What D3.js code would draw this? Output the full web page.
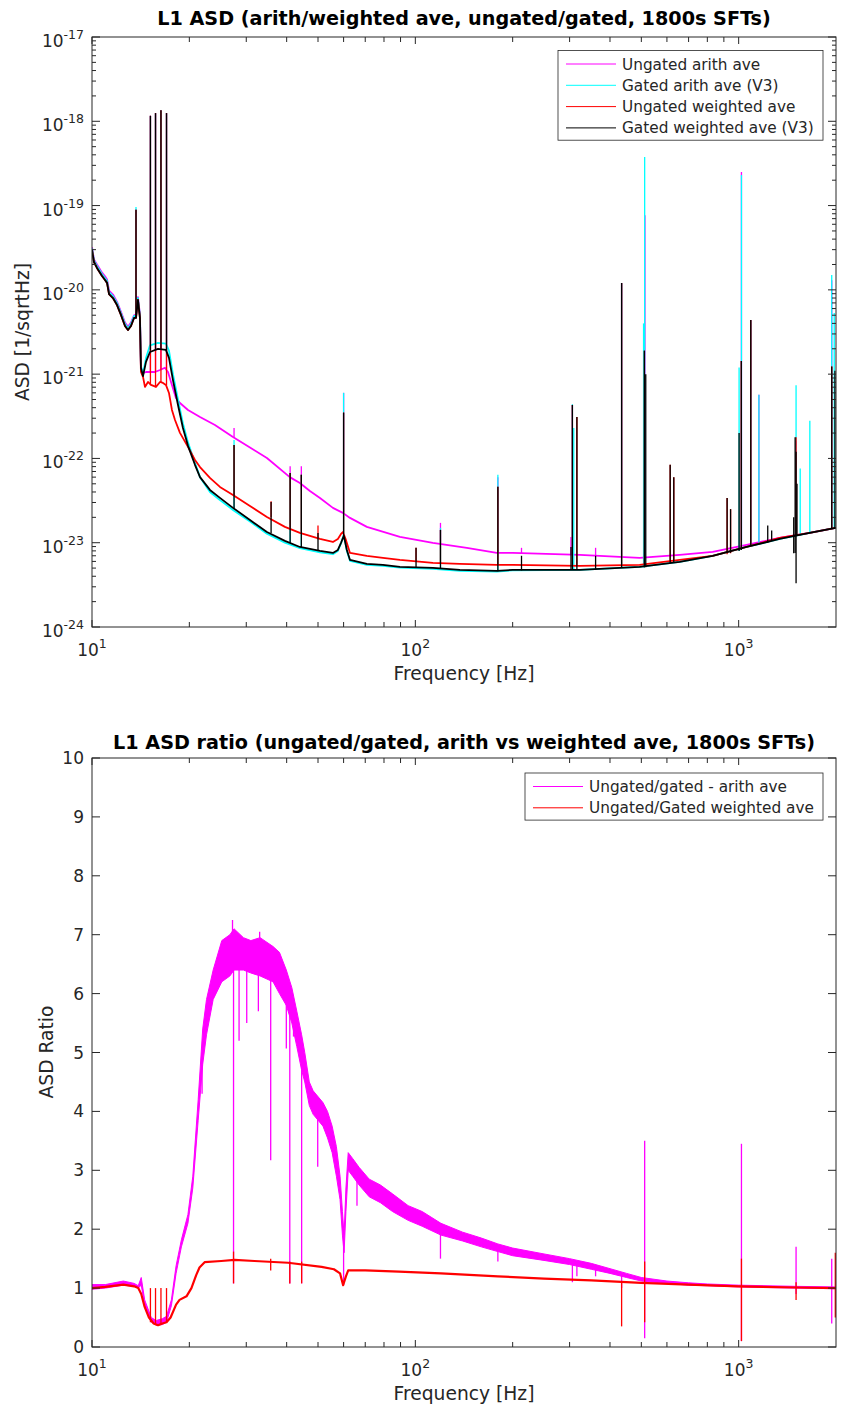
<!DOCTYPE html>
<html>
<head>
<meta charset="utf-8">
<script src="https://cdn.jsdelivr.net/npm/d3@7"></script>
<style>
  body { margin: 0; background: #fff; }
  svg text { font-family: "DejaVu Sans", sans-serif; fill: #262626; }
</style>
</head>
<body>
<svg id="fig" width="841" height="1410"></svg>
<script>
// ---------- top panel: ASD, [freq Hz, ASD] ----------
var asdUngatedArith = [
  [10, 3.2e-20], [10.14, 2.3e-20], [10.36, 2.0e-20], [10.74, 1.6e-20], [10.97, 1.45e-20], [11.13, 1.33e-20],
  [11.29, 9.8e-21], [11.61, 8.8e-21], [11.95, 7.2e-21], [12.29, 5.5e-21], [12.65, 4.1e-21], [12.92, 3.65e-21],
  [13.2, 4.1e-21], [13.49, 5.0e-21], [13.68, 5.1e-21], [13.87, 8.2e-21], [14.07, 5.1e-21], [14.17, 1.19e-21],
  [14.38, 1.03e-21], [14.69, 1.06e-21], [15.11, 1.06e-21], [15.65, 1.06e-21], [16.23, 1.12e-21], [16.81, 1.19e-21],
  [17.18, 1.06e-21], [17.67, 7.45e-22], [18.18, 5.22e-22], [18.71, 4.55e-22], [19.81, 3.76e-22], [21.58, 3.1e-22],
  [24.0, 2.49e-22], [27.29, 1.8e-22], [30.8, 1.35e-22], [34.75, 1.01e-22], [40.9, 6.0e-23], [43.95, 5.1e-23],
  [47.2, 4.1e-23], [50.7, 3.4e-23], [55.6, 2.59e-23], [59.7, 2.26e-23], [62.8, 1.97e-23], [70.8, 1.54e-23],
  [89.6, 1.17e-23], [113.3, 9.96e-24], [144.3, 8.7e-24], [178.6, 7.57e-24], [200.2, 7.57e-24], [322.5, 7.16e-24],
  [494, 6.6e-24], [657, 7.16e-24], [831, 7.78e-24], [1058, 9.4e-24], [1339, 1.14e-23], [1658, 1.31e-23], [1994, 1.5e-23]
];
var asdGatedArith = [
  [10, 3.1e-20], [10.14, 2.25e-20], [10.36, 1.92e-20], [10.74, 1.54e-20], [10.97, 1.38e-20], [11.13, 1.28e-20],
  [11.29, 9.4e-21], [11.61, 8.4e-21], [11.95, 7.0e-21], [12.29, 5.3e-21], [12.65, 3.95e-21], [12.92, 3.5e-21],
  [13.2, 3.95e-21], [13.49, 4.9e-21], [13.68, 4.9e-21], [13.87, 8.0e-21], [14.07, 4.9e-21], [14.17, 1.25e-21],
  [14.38, 1.0e-21], [14.69, 1.55e-21], [15.11, 2.2e-21], [16.0, 2.35e-21], [16.93, 2.3e-21], [17.3, 1.9e-21],
  [17.8, 1.0e-21], [18.45, 5.0e-22], [19.11, 2.6e-22], [19.81, 1.55e-22], [20.82, 8.8e-23], [21.58, 6.0e-23],
  [23.16, 4.0e-23], [24.87, 3.2e-23], [27.29, 2.45e-23], [30.8, 1.78e-23], [34.75, 1.28e-23], [39.5, 1.0e-23],
  [43.95, 8.6e-24], [50.7, 7.7e-24], [55.6, 7.3e-24], [57.6, 8.0e-24], [58.9, 9.8e-24], [60.1, 1.25e-23],
  [61.4, 8.0e-24], [62.8, 6.1e-24], [70.8, 5.45e-24], [79.4, 5.3e-24], [89.6, 5.05e-24], [113.3, 4.9e-24],
  [137.3, 4.65e-24], [178.6, 4.55e-24], [200.2, 4.7e-24], [322.5, 4.76e-24], [494, 5.17e-24], [657, 5.92e-24],
  [831, 6.97e-24], [1058, 8.9e-24], [1339, 1.11e-23], [1658, 1.31e-23], [1994, 1.5e-23]
];
var asdUngatedWeighted = [
  [10, 2.97e-20], [10.14, 2.14e-20], [10.36, 1.82e-20], [10.74, 1.46e-20], [10.97, 1.31e-20], [11.13, 1.21e-20],
  [11.29, 8.9e-21], [11.61, 8.0e-21], [11.95, 6.6e-21], [12.29, 5.04e-21], [12.65, 3.73e-21], [12.92, 3.34e-21],
  [13.2, 3.73e-21], [13.49, 4.64e-21], [13.68, 4.64e-21], [13.87, 7.6e-21], [14.07, 4.64e-21], [14.17, 1.06e-21],
  [14.38, 9.27e-22], [14.58, 7.05e-22], [14.9, 8.08e-22], [15.22, 7.45e-22], [15.77, 7.05e-22], [16.23, 8.08e-22],
  [16.58, 7.87e-22], [16.93, 7.45e-22], [17.3, 5.98e-22], [17.67, 3.76e-22], [18.06, 2.86e-22], [18.71, 2.01e-22],
  [19.81, 1.37e-22], [20.82, 9.6e-23], [21.58, 7.9e-23], [23.16, 5.87e-23], [24.87, 4.59e-23], [27.29, 3.69e-23],
  [30.8, 2.73e-23], [34.75, 2.02e-23], [39.5, 1.54e-23], [43.95, 1.31e-23], [50.7, 1.11e-23], [55.6, 1.02e-23],
  [57.6, 1.11e-23], [58.9, 1.27e-23], [59.7, 1.34e-23], [61.0, 1.08e-23], [62.8, 7.57e-24], [70.8, 6.97e-24],
  [79.4, 6.6e-24], [89.6, 6.25e-24], [113.3, 5.75e-24], [137.3, 5.61e-24], [178.6, 5.46e-24], [200.2, 5.46e-24],
  [322.5, 5.31e-24], [494, 5.46e-24], [657, 6.25e-24], [831, 6.97e-24], [1058, 8.9e-24], [1339, 1.14e-23],
  [1658, 1.31e-23], [1994, 1.5e-23]
];
var asdGatedWeighted = [
  [10, 2.97e-20], [10.14, 2.14e-20], [10.36, 1.82e-20], [10.74, 1.46e-20], [10.97, 1.31e-20], [11.13, 1.21e-20],
  [11.29, 8.9e-21], [11.61, 8.0e-21], [11.95, 6.6e-21], [12.29, 5.04e-21], [12.65, 3.73e-21], [12.92, 3.34e-21],
  [13.2, 3.73e-21], [13.49, 4.64e-21], [13.68, 4.64e-21], [13.87, 7.6e-21], [14.07, 4.64e-21], [14.17, 1.19e-21],
  [14.38, 9.5e-22], [14.69, 1.4e-21], [15.11, 1.83e-21], [16.0, 1.99e-21], [16.93, 1.94e-21], [17.3, 1.56e-21],
  [17.8, 8.5e-22], [18.45, 4.31e-22], [19.11, 2.3e-22], [19.81, 1.41e-22], [20.82, 8.4e-23], [21.58, 6.0e-23],
  [23.16, 4.23e-23], [24.87, 3.4e-23], [27.29, 2.59e-23], [30.8, 1.86e-23], [34.75, 1.34e-23], [39.5, 1.05e-23],
  [43.95, 8.9e-24], [50.7, 8.0e-24], [55.6, 7.57e-24], [57.6, 8.2e-24], [58.9, 9.96e-24], [60.1, 1.21e-23],
  [61.4, 8.2e-24], [62.8, 6.25e-24], [70.8, 5.61e-24], [79.4, 5.46e-24], [89.6, 5.17e-24], [113.3, 5.03e-24],
  [137.3, 4.76e-24], [178.6, 4.63e-24], [200.2, 4.76e-24], [322.5, 4.76e-24], [494, 5.17e-24], [657, 5.92e-24],
  [831, 6.97e-24], [1058, 8.9e-24], [1339, 1.11e-23], [1658, 1.31e-23], [1994, 1.5e-23]
];

// spectral lines, [freq, low, peak]
var linesUngatedArith = [
  [13.68, 5.1e-21, 9.0e-20], [15.16, 1.06e-21, 1.16e-18], [15.72, 1.06e-21, 1.25e-18], [16.34, 1.12e-21, 1.35e-18],
  [17.0, 1.15e-21, 1.25e-18], [27.5, 1.8e-22, 2.3e-22], [41.0, 6.0e-23, 8.1e-23], [44.4, 5.1e-23, 8.1e-23],
  [60.0, 2.3e-23, 6.0e-22], [119.6, 9.5e-24, 1.72e-23], [180, 7.6e-24, 6.0e-23], [213, 7.5e-24, 8.7e-24],
  [303, 7.2e-24, 1.17e-23], [306, 7.2e-24, 4.3e-22], [361, 7.0e-24, 8.7e-24], [434.5, 6.7e-24, 1.21e-20],
  [513, 6.6e-24, 7.7e-20], [1020, 9.3e-24, 2.5e-19], [1090, 9.6e-24, 4.4e-21], [1155, 1.0e-23, 5.7e-22],
  [1505, 1.2e-23, 1.6e-22], [1940, 1.45e-23, 1.3e-20]
];
var linesGatedArith = [
  [13.68, 4.9e-21, 9.6e-20], [15.16, 2.2e-21, 1.16e-18], [15.72, 2.3e-21, 1.25e-18], [16.34, 2.35e-21, 1.35e-18],
  [17.0, 2.3e-21, 1.25e-18], [27.5, 2.45e-23, 1.66e-22], [41.0, 1.0e-23, 6.7e-23], [44.4, 8.6e-24, 6.4e-23],
  [60.0, 1.2e-23, 6.0e-22], [119.6, 4.9e-24, 1.5e-23], [180, 4.55e-24, 6.4e-23], [306, 4.76e-24, 4.4e-22],
  [309, 4.76e-24, 2.3e-22], [434.5, 5.0e-24, 1.21e-20], [508, 5.1e-24, 4.0e-21], [512, 5.1e-24, 3.77e-19],
  [1003, 8.0e-24, 1.2e-21], [1020, 8.2e-24, 2.3e-19], [1090, 9.2e-24, 4.4e-21], [1155, 9.8e-24, 5.7e-22],
  [1505, 1.2e-23, 7.4e-22], [1550, 1.2e-23, 7.6e-23], [1660, 1.3e-23, 2.8e-22], [1940, 1.45e-23, 1.5e-20],
  [1975, 1.48e-23, 5.3e-21]
];
var linesUngatedWeighted = [
  [13.68, 4.6e-21, 8.9e-20], [15.16, 7.4e-22, 1.16e-18], [15.72, 7.0e-22, 1.25e-18], [16.34, 8.0e-22, 1.35e-18],
  [17.0, 7.4e-22, 1.25e-18], [27.5, 3.65e-23, 1.44e-22], [35.8, 2.0e-23, 3.1e-23], [41.0, 1.5e-23, 6.7e-23],
  [44.4, 1.31e-23, 6.4e-23], [50.0, 1.1e-23, 1.6e-23], [60.0, 1.3e-23, 3.5e-22], [100.5, 6.1e-24, 8.7e-24],
  [119.6, 5.75e-24, 1.42e-23], [180, 5.46e-24, 4.6e-23], [306, 5.3e-24, 4.31e-22], [316, 5.3e-24, 3.1e-22],
  [434.5, 5.4e-24, 1.21e-20], [511, 5.5e-24, 1.9e-21], [614, 6.0e-24, 8.4e-23], [630, 6.1e-24, 6.0e-23],
  [921, 7.3e-24, 3.4e-23], [944, 7.5e-24, 2.5e-23], [1019, 8.5e-24, 1.43e-21], [1090, 9.3e-24, 4.4e-21],
  [1505, 1.2e-23, 1.78e-22], [1940, 1.45e-23, 1.23e-21]
];
var linesGatedWeighted = [
  [13.68, 4.6e-21, 8.9e-20], [15.16, 1.9e-21, 1.16e-18], [15.72, 1.95e-21, 1.25e-18], [16.34, 2.0e-21, 1.35e-18],
  [17.0, 1.9e-21, 1.25e-18], [27.5, 2.55e-23, 1.44e-22], [35.8, 1.3e-23, 3.05e-23], [41.0, 1.0e-23, 6.7e-23],
  [44.4, 8.9e-24, 6.4e-23], [50.0, 8.0e-24, 1.3e-23], [60.0, 1.2e-23, 3.5e-22], [100.5, 5.1e-24, 8.7e-24],
  [119.6, 5.0e-24, 1.42e-23], [180, 4.6e-24, 4.6e-23], [213, 4.7e-24, 7.0e-24], [303, 4.76e-24, 8.9e-24],
  [306, 4.76e-24, 4.31e-22], [316, 4.76e-24, 3.1e-22], [361, 4.8e-24, 7.0e-24], [434.5, 5.0e-24, 1.21e-20],
  [511, 5.1e-24, 1.9e-21], [516, 5.1e-24, 1.0e-21], [614, 5.7e-24, 8.4e-23], [630, 5.8e-24, 6.0e-23],
  [921, 7.5e-24, 3.4e-23], [944, 7.6e-24, 2.5e-23], [1003, 8.0e-24, 2.0e-22], [1019, 8.2e-24, 1.43e-21],
  [1090, 9.2e-24, 4.4e-21], [1230, 1.0e-23, 1.6e-23], [1265, 1.05e-23, 1.4e-23], [1480, 7.5e-24, 2.0e-23],
  [1495, 7.57e-24, 1.78e-22], [1505, 3.3e-24, 1.2e-22], [1515, 1.2e-23, 5.0e-23], [1940, 1.45e-23, 1.23e-21],
  [1985, 1.48e-23, 1.1e-21]
];

// ---------- bottom panel: ratio ----------
// arith ratio is a noisy band: [freq, low, high]
var ratioArithBand = [
  [10, 0.98, 1.06], [11, 1.0, 1.06], [12.5, 1.05, 1.12], [13.5, 1.03, 1.08], [13.9, 1.0, 1.04], [14.2, 1.05, 1.18],
  [14.55, 0.72, 0.8], [15.25, 0.42, 0.5], [15.8, 0.37, 0.45], [16.5, 0.38, 0.48], [17.0, 0.42, 0.52], [17.6, 0.7, 0.8],
  [18.2, 1.25, 1.38], [18.9, 1.7, 1.82], [19.8, 2.1, 2.25], [20.5, 2.7, 2.9], [21.3, 3.85, 4.2], [22.0, 4.8, 5.4],
  [22.6, 5.3, 5.9], [23.7, 5.9, 6.4], [25.2, 6.2, 6.9], [26.7, 6.3, 7.0], [27.5, 6.4, 7.1], [29.4, 6.4, 6.95],
  [31, 6.35, 6.9], [33.1, 6.3, 6.95], [36.3, 6.2, 6.8], [38, 6.0, 6.7], [39.9, 5.8, 6.4], [41.5, 5.5, 6.1],
  [43.0, 5.1, 5.7], [44.5, 4.7, 5.3], [45.5, 4.5, 5.0], [47, 4.1, 4.5], [48.3, 3.95, 4.35], [51.8, 3.75, 4.15],
  [53.5, 3.55, 4.0], [55.3, 3.3, 3.75], [57, 2.9, 3.4], [58.5, 2.5, 2.9], [59.5, 1.9, 2.3], [60.2, 1.6, 1.9],
  [61, 2.3, 2.7], [62, 3.0, 3.3], [64, 2.9, 3.2], [67, 2.75, 3.05], [72, 2.55, 2.85], [78, 2.45, 2.75],
  [85, 2.3, 2.6], [95, 2.15, 2.4], [105, 2.05, 2.3], [120, 1.9, 2.1], [140, 1.8, 1.95], [160, 1.7, 1.85],
  [180, 1.62, 1.75], [200, 1.55, 1.68], [250, 1.47, 1.58], [300, 1.4, 1.5], [350, 1.32, 1.42], [400, 1.25, 1.33],
  [450, 1.18, 1.25], [500, 1.12, 1.18], [600, 1.08, 1.12], [700, 1.05, 1.09], [800, 1.04, 1.07], [1000, 1.02, 1.05],
  [1500, 1.0, 1.03], [2000, 0.99, 1.02]
];
var ratioArithLines = [
  [21.9, 4.3, 5.0], [27.2, 6.5, 7.25], [27.4, 1.08, 6.8], [28.5, 5.2, 6.6], [30.1, 5.5, 6.6], [32.7, 5.7, 6.6],
  [33.0, 6.5, 7.05], [35.7, 3.17, 6.5], [39.9, 5.07, 6.1], [40.9, 1.08, 5.9], [42.0, 5.27, 5.6], [44.5, 1.08, 5.0],
  [49.9, 3.06, 4.1], [60.0, 1.05, 2.0], [66, 2.4, 2.9], [119.6, 1.5, 2.0], [180, 1.45, 1.7], [306, 1.1, 1.45],
  [316, 1.2, 1.45], [361, 1.2, 1.35], [434.5, 1.0, 1.22], [512, 0.15, 3.5], [1020, 0.1, 3.45], [1505, 0.9, 1.7],
  [1940, 0.4, 1.5]
];
var ratioWeighted = [
  [10, 1.0], [11, 1.02], [12.5, 1.06], [13.5, 1.03], [13.9, 1.0], [14.2, 0.9], [14.55, 0.68], [15.0, 0.5],
  [15.5, 0.4], [16.0, 0.37], [16.5, 0.4], [17.0, 0.42], [17.5, 0.5], [18.2, 0.72], [18.65, 0.8], [19.6, 0.86],
  [20.3, 1.0], [21.0, 1.22], [21.5, 1.35], [22.3, 1.44], [25.1, 1.46], [27.6, 1.48], [31.8, 1.46], [40.4, 1.43],
  [51.3, 1.36], [56, 1.32], [58.5, 1.25], [59.8, 1.05], [61, 1.2], [62, 1.3], [70, 1.3], [89, 1.28], [120, 1.25],
  [180, 1.2], [250, 1.16], [350, 1.13], [500, 1.09], [700, 1.06], [1000, 1.03], [1500, 1.01], [2000, 1.0]
];
var ratioWeightedLines = [
  [15.16, 0.42, 1.0], [15.72, 0.38, 1.0], [16.34, 0.38, 1.0], [17.0, 0.42, 1.0], [27.4, 1.08, 1.62],
  [35.7, 1.3, 1.5], [40.9, 1.08, 1.45], [44.5, 1.08, 1.45], [434.5, 0.35, 1.1], [512, 0.42, 1.45],
  [1020, 0.1, 1.5], [1505, 0.8, 1.1], [1990, 0.5, 1.6]
];

var topLegend = ["Ungated arith ave", "Gated arith ave (V3)", "Ungated weighted ave", "Gated weighted ave (V3)"];
var topColors = ["#ff00ff", "#00ffff", "#ff0000", "#000000"];
var botLegend = ["Ungated/gated - arith ave", "Ungated/Gated weighted ave"];
var botColors = ["#ff00ff", "#ff0000"];
var xMajor = [10, 100, 1000];
var xMinor = [20, 30, 40, 50, 60, 70, 80, 90, 200, 300, 400, 500, 600, 700, 800, 900];
var yTopDecades = [-24, -23, -22, -21, -20, -19, -18, -17];
var yBotTicks = [0, 1, 2, 3, 4, 5, 6, 7, 8, 9, 10];

var ink = "#262626";
var svg = d3.select("#fig");
var L = 92, R = 836;

var x = d3.scaleLog().domain([10, 2000]).range([L, R]);
var yTop = d3.scaleLog().domain([1e-24, 1e-17]).range([627, 37]);
var yBot = d3.scaleLinear().domain([0, 10]).range([1347, 758]);

function clip(id, top, bottom) {
  svg.append("clipPath").attr("id", id).append("rect")
    .attr("x", L).attr("y", top).attr("width", R - L).attr("height", bottom - top);
}
clip("clipTop", 37, 627);
clip("clipBot", 758, 1347);

function powLabel(g, px, py, e, anchor) {
  var t = g.append("text").attr("x", px).attr("y", py).attr("text-anchor", anchor).style("font-size", "17px");
  t.append("tspan").text("10");
  t.append("tspan").attr("dy", -8).style("font-size", "12.5px").text(e);
}

function xAxis(g, top, bottom) {
  xMajor.forEach(function(f) {
    g.append("line").attr("x1", x(f)).attr("x2", x(f)).attr("y1", bottom).attr("y2", bottom - 7).attr("stroke", ink);
    g.append("line").attr("x1", x(f)).attr("x2", x(f)).attr("y1", top).attr("y2", top + 7).attr("stroke", ink);
    powLabel(g, x(f), bottom + 29, String(Math.round(Math.log10(f))), "middle");
  });
  xMinor.forEach(function(f) {
    g.append("line").attr("x1", x(f)).attr("x2", x(f)).attr("y1", bottom).attr("y2", bottom - 5).attr("stroke", ink);
    g.append("line").attr("x1", x(f)).attr("x2", x(f)).attr("y1", top).attr("y2", top + 5).attr("stroke", ink);
  });
  g.append("text").attr("x", (L + R) / 2).attr("y", bottom + 53).attr("text-anchor", "middle")
    .style("font-size", "18.7px").text("Frequency [Hz]");
}

function box(g, top, bottom) {
  g.append("rect").attr("x", L).attr("y", top).attr("width", R - L).attr("height", bottom - top)
    .attr("fill", "none").attr("stroke", ink).attr("stroke-width", 1);
}

function legend(g, x0, y0, w, names, colors) {
  g.append("rect").attr("x", x0).attr("y", y0).attr("width", w).attr("height", names.length * 21.3 + 4.5)
    .attr("fill", "#fff").attr("stroke", ink).attr("stroke-width", 0.8);
  names.forEach(function(n, i) {
    var cy = y0 + 13.5 + i * 21.3;
    g.append("line").attr("x1", x0 + 8).attr("x2", x0 + 58).attr("y1", cy).attr("y2", cy)
      .attr("stroke", colors[i]).attr("stroke-width", 1);
    g.append("text").attr("x", x0 + 64).attr("y", cy + 5.5).style("font-size", "15.3px").text(n);
  });
}

// ================= top panel =================
var gt = svg.append("g");
gt.append("text").attr("x", (L + R) / 2).attr("y", 25).attr("text-anchor", "middle")
  .style("font-size", "19.2px").style("font-weight", "bold").style("fill", "#000")
  .text("L1 ASD (arith/weighted ave, ungated/gated, 1800s SFTs)");

var plotT = gt.append("g").attr("clip-path", "url(#clipTop)");
var lineT = d3.line().x(function(d) { return x(d[0]); }).y(function(d) { return yTop(d[1]); });
[[asdUngatedArith, linesUngatedArith], [asdGatedArith, linesGatedArith],
 [asdUngatedWeighted, linesUngatedWeighted], [asdGatedWeighted, linesGatedWeighted]].forEach(function(s, i) {
  plotT.append("path").datum(s[0]).attr("d", lineT).attr("fill", "none")
    .attr("stroke", topColors[i]).attr("stroke-width", 1.8).attr("stroke-linejoin", "round");
  plotT.selectAll(null).data(s[1]).enter().append("line")
    .attr("x1", function(d) { return x(d[0]); }).attr("x2", function(d) { return x(d[0]); })
    .attr("y1", function(d) { return yTop(d[1]); }).attr("y2", function(d) { return yTop(d[2]); })
    .attr("stroke", topColors[i]).attr("stroke-width", 1.3);
});

box(gt, 37, 627);
yTopDecades.forEach(function(e) {
  var py = yTop(Math.pow(10, e));
  gt.append("line").attr("x1", L).attr("x2", L + 8).attr("y1", py).attr("y2", py).attr("stroke", ink);
  gt.append("line").attr("x1", R).attr("x2", R - 8).attr("y1", py).attr("y2", py).attr("stroke", ink);
  powLabel(gt, 84, py + 10, String(e), "end");
  if (e < -17) {
    for (var k = 2; k <= 9; k++) {
      var pm = yTop(k * Math.pow(10, e));
      gt.append("line").attr("x1", L).attr("x2", L + 4).attr("y1", pm).attr("y2", pm).attr("stroke", ink);
      gt.append("line").attr("x1", R).attr("x2", R - 4).attr("y1", pm).attr("y2", pm).attr("stroke", ink);
    }
  }
});
xAxis(gt, 37, 627);
gt.append("text").attr("transform", "translate(29,332) rotate(-90)").attr("text-anchor", "middle")
  .style("font-size", "18.7px").text("ASD [1/sqrtHz]");
legend(gt, 558, 50.5, 265, topLegend, topColors);

// ================= bottom panel =================
var gb = svg.append("g");
gb.append("text").attr("x", (L + R) / 2).attr("y", 749).attr("text-anchor", "middle")
  .style("font-size", "19.2px").style("font-weight", "bold").style("fill", "#000")
  .text("L1 ASD ratio (ungated/gated, arith vs weighted ave, 1800s SFTs)");

var plotB = gb.append("g").attr("clip-path", "url(#clipBot)");
var band = d3.area().x(function(d) { return x(d[0]); })
  .y0(function(d) { return yBot(d[1]); }).y1(function(d) { return yBot(d[2]); });
plotB.append("path").datum(ratioArithBand).attr("d", band)
  .attr("fill", "#ff00ff").attr("stroke", "#ff00ff").attr("stroke-width", 1);
plotB.selectAll(null).data(ratioArithLines).enter().append("line")
  .attr("x1", function(d) { return x(d[0]); }).attr("x2", function(d) { return x(d[0]); })
  .attr("y1", function(d) { return yBot(d[1]); }).attr("y2", function(d) { return yBot(d[2]); })
  .attr("stroke", "#ff00ff").attr("stroke-width", 1.3);

var lineB = d3.line().x(function(d) { return x(d[0]); }).y(function(d) { return yBot(d[1]); });
plotB.append("path").datum(ratioWeighted).attr("d", lineB).attr("fill", "none")
  .attr("stroke", "#ff0000").attr("stroke-width", 2.2).attr("stroke-linejoin", "round");
plotB.selectAll(null).data(ratioWeightedLines).enter().append("line")
  .attr("x1", function(d) { return x(d[0]); }).attr("x2", function(d) { return x(d[0]); })
  .attr("y1", function(d) { return yBot(d[1]); }).attr("y2", function(d) { return yBot(d[2]); })
  .attr("stroke", "#ff0000").attr("stroke-width", 1.3);

box(gb, 758, 1347);
yBotTicks.forEach(function(v) {
  var py = yBot(v);
  gb.append("line").attr("x1", L).attr("x2", L + 8).attr("y1", py).attr("y2", py).attr("stroke", ink);
  gb.append("line").attr("x1", R).attr("x2", R - 8).attr("y1", py).attr("y2", py).attr("stroke", ink);
  gb.append("text").attr("x", 84).attr("y", py + 6).attr("text-anchor", "end").style("font-size", "17px").text(v);
});
xAxis(gb, 758, 1347);
gb.append("text").attr("transform", "translate(53,1052) rotate(-90)").attr("text-anchor", "middle")
  .style("font-size", "18.7px").text("ASD Ratio");
legend(gb, 525, 773, 298, botLegend, botColors);
</script>
</body>
</html>
